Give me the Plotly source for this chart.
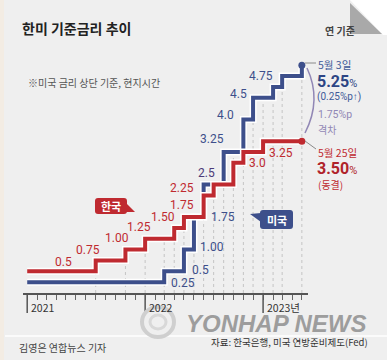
import plotly.graph_objects as go
import pandas as pd

# ---------------- data ----------------
kr_dates = ["2021-01-01", "2021-08-01", "2021-11-01", "2022-01-01", "2022-04-01", "2022-05-01",
            "2022-07-01", "2022-08-01", "2022-10-01", "2022-11-01", "2023-01-01", "2023-05-01"]
kr_rates = [0.5, 0.75, 1.0, 1.25, 1.5, 1.75, 2.25, 2.5, 3.0, 3.25, 3.5, 3.5]
kr_labels = ["0.5", "0.75", "1.00", "1.25", "1.50", "1.75", "2.25", "", "3.0", "3.25", "", ""]

us_dates = ["2021-01-01", "2022-03-01", "2022-05-01", "2022-06-01", "2022-07-01", "2022-09-01",
            "2022-11-01", "2022-12-01", "2023-02-01", "2023-03-01", "2023-05-01"]
us_rates = [0.25, 0.5, 1.0, 1.75, 2.5, 3.25, 4.0, 4.5, 4.75, 5.0, 5.25]
us_labels = ["0.25", "0.5", "1.00", "1.75", "2.5", "3.25", "4.0", "4.5", "4.75", "", ""]

year_ticks = ["2021-01-01", "2022-01-01", "2023-01-01"]
year_labels = ["2021", "2022", "2023년"]

# ---------------- styles / positions ----------------
kr_dx = [36, -8, -8, -6, -11, -2, -22, 0, 24, 38, 0, 0]
kr_dy = [9, 10, 12, 12, 11, 12, 7, 0, 0, -1, 0, 0]
us_dx = [156, 36, 28, 29, 3, -12, -18, -15, -12, 0, 0]
us_dy = [-1, 1, 3, 0, 12, 13, 4, 4, 11, 0, 0]

RED = "#bf2a30"
BLUE = "#3d4f8b"
PURPLE = "#4b3a78"
LAV = "#9187b5"
BG = "#efefef"

W_FIG, H_FIG = 387, 360
L, T, W, H = 23, 11, 285, 282


def PX(x):
    return (x - L) / W


def PY(y):
    return 1 - (y - T) / H


def path(points, close=True):
    s = "M " + " L ".join(f"{PX(x):.5f},{PY(y):.5f}" for x, y in points)
    return s + (" Z" if close else "")


def rrect(x0, y0, x1, y1, r):
    p = lambda x, y: f"{PX(x):.5f},{PY(y):.5f}"
    return (f"M {p(x0 + r, y0)} L {p(x1 - r, y0)} Q {p(x1, y0)} {p(x1, y0 + r)} "
            f"L {p(x1, y1 - r)} Q {p(x1, y1)} {p(x1 - r, y1)} L {p(x0 + r, y1)} "
            f"Q {p(x0, y1)} {p(x0, y1 - r)} L {p(x0, y0 + r)} Q {p(x0, y0)} {p(x0 + r, y0)} Z")


fig = go.Figure()

# white halos + lines
for dates, rates, col in [(us_dates, us_rates, BLUE), (kr_dates, kr_rates, RED)]:
    fig.add_trace(go.Scatter(x=dates, y=rates, mode="lines", line=dict(shape="hv", color="white", width=7),
                             hoverinfo="skip", showlegend=False))
    fig.add_trace(go.Scatter(x=dates, y=rates, mode="lines", line=dict(shape="hv", color=col, width=4),
                             showlegend=False))
    fig.add_trace(go.Scatter(x=[dates[-1]], y=[rates[-1]], mode="markers",
                             marker=dict(color=col, size=7), showlegend=False, cliponaxis=False))

shapes = []


def step_val(dates, rates, d):
    v = rates[0]
    for dd, r in zip(dates, rates):
        if pd.Timestamp(dd) <= pd.Timestamp(d):
            v = r
    return v


# dotted guide lines at rate-change dates
change_dates = sorted(set(kr_dates[1:] + us_dates[1:]))
for d in change_dates:
    top = max(step_val(kr_dates, kr_rates, d), step_val(us_dates, us_rates, d))
    shapes.append(dict(type="line", xref="x", yref="y", x0=d, x1=d, y0=0, y1=top,
                       line=dict(color="#c4c4c4", width=1, dash="dot"), layer="below"))

# major year ticks
for d in year_ticks:
    shapes.append(dict(type="line", xref="x", yref="paper", x0=d, x1=d, y0=0, y1=PY(313),
                       line=dict(color="#555", width=1.5)))

# left beige strip, bottom separator
shapes.append(dict(type="rect", xref="paper", yref="paper", x0=PX(0), x1=PX(4), y0=PY(360), y1=PY(0),
                   fillcolor="#f3ece3", line=dict(width=0), layer="below"))
shapes.append(dict(type="line", xref="paper", yref="paper", x0=PX(5), x1=PX(387), y0=PY(336), y1=PY(336),
                   line=dict(color="white", width=1.5)))

# folded corner
shapes.append(dict(type="path", xref="paper", yref="paper",
                   path=path([(350, 0), (387, 0), (387, 35), (383, 35)]),
                   fillcolor="white", line=dict(width=0)))
shapes.append(dict(type="path", xref="paper", yref="paper",
                   path=path([(350, 3), (350, 34), (382, 34)]),
                   fillcolor="#a9a9a9", line=dict(width=0)))

# callout boxes
shapes.append(dict(type="path", xref="paper", yref="paper", path=rrect(95, 198, 127, 214, 3),
                   fillcolor=RED, line=dict(width=0)))
shapes.append(dict(type="path", xref="paper", yref="paper", path=path([(126, 203), (135, 212), (126, 212)]),
                   fillcolor=RED, line=dict(width=0)))
shapes.append(dict(type="path", xref="paper", yref="paper", path=rrect(260, 210, 293, 229, 3),
                   fillcolor=BLUE, line=dict(width=0)))
shapes.append(dict(type="path", xref="paper", yref="paper", path=path([(261, 213), (250, 214), (261, 222)]),
                   fillcolor=BLUE, line=dict(width=0)))

# end connectors and gap arc
shapes.append(dict(type="line", xref="paper", yref="paper", x0=PX(305), x1=PX(316), y0=PY(63), y1=PY(63),
                   line=dict(color="#8a8a8a", width=1)))
shapes.append(dict(type="line", xref="paper", yref="paper", x0=PX(305), x1=PX(316), y0=PY(141), y1=PY(149),
                   line=dict(color="#8a8a8a", width=1)))
shapes.append(dict(type="path", xref="paper", yref="paper",
                   path=f"M {PX(307):.5f},{PY(68):.5f} Q {PX(322):.5f},{PY(100):.5f} {PX(305):.5f},{PY(133):.5f}",
                   line=dict(color=LAV, width=1.5)))

# watermark logo ring
shapes.append(dict(type="circle", xref="paper", yref="paper", x0=PX(142), x1=PX(174), y0=PY(337), y1=PY(307),
                   line=dict(color="#cfcfcf", width=4)))
shapes.append(dict(type="circle", xref="paper", yref="paper", x0=PX(150), x1=PX(166), y0=PY(329), y1=PY(315),
                   line=dict(color="#d8d8d8", width=3)))

annotations = []
NUMF = "Roboto"
KRF = "Noto Sans CJK KR"

for d, v, t, dx, dy in zip(kr_dates, kr_rates, kr_labels, kr_dx, kr_dy):
    if t:
        annotations.append(dict(x=d, y=v, xref="x", yref="y", text=t, showarrow=False, xshift=dx, yshift=dy,
                                font=dict(family=NUMF, size=12, color=RED)))
for i, (d, v, t, dx, dy) in enumerate(zip(us_dates, us_rates, us_labels, us_dx, us_dy)):
    if t:
        col = PURPLE if t == "2.5" else BLUE
        annotations.append(dict(x=d, y=v, xref="x", yref="y", text=t, showarrow=False, xshift=dx, yshift=dy,
                                font=dict(family=NUMF, size=12, color=col)))

for d, t in zip(year_ticks, year_labels):
    annotations.append(dict(x=d, y=PY(307), xref="x", yref="paper", text=t, showarrow=False,
                            xanchor="left", yanchor="middle", xshift=2,
                            font=dict(family=KRF, size=10.5, color="#333")))


def txt(x, y, t, size, color, anchor="left", family=KRF):
    annotations.append(dict(x=PX(x), y=PY(y), xref="paper", yref="paper", text=t, showarrow=False,
                            xanchor=anchor, yanchor="middle", font=dict(family=family, size=size, color=color)))


txt(20, 28, "<b>한미 기준금리 추이</b>", 14, "#222")
txt(323, 31, "<b>연 기준</b>", 10, "#444")
txt(26, 83, "※미국 금리 상단 기준, 현지시간", 10, "#555")

txt(316, 64, "5월 3일", 10.5, "#3f5a98")
txt(315, 81, "<b>5.25</b><span style='font-size:11px'>%</span>", 16, "#2c4584", family=NUMF)
txt(315, 97, "(0.25%p↑)", 10, "#3f5a98", family=NUMF)
txt(316, 114, "1.75%p", 10.5, LAV, family=NUMF)
txt(316, 129, "격차", 10, LAV)
txt(316, 152, "5월 25일", 10.5, RED)
txt(315, 168, "<b>3.50</b><span style='font-size:11px'>%</span>", 16, "#b0232a", family=NUMF)
txt(316, 184, "(동결)", 10, RED)

txt(111, 206, "<b>한국</b>", 11, "white", anchor="center")
txt(276.5, 219.5, "<b>미국</b>", 11, "white", anchor="center")

txt(184, 323, "<b><i>YONHAP NEWS</i></b>", 24, "#9d9d9d", family="Liberation Sans")
txt(17, 347, "김영은 연합뉴스 기자", 10, "#444")
txt(370, 342, "자료: 한국은행, 미국 연방준비제도(Fed)", 9.5, "#333", anchor="right")

fig.update_layout(
    width=W_FIG, height=H_FIG,
    margin=dict(l=L, r=W_FIG - L - W, t=T, b=H_FIG - T - H, pad=0),
    paper_bgcolor=BG, plot_bgcolor="rgba(0,0,0,0)",
    showlegend=False,
    shapes=shapes, annotations=annotations,
    xaxis=dict(type="date", range=["2020-12-19", "2023-05-20"], showgrid=False, zeroline=False,
               showline=True, linecolor="#555", linewidth=1.5,
               ticks="outside", ticklen=5, tickwidth=1, tickcolor="#666",
               tick0="2021-01-01", dtick="M1", showticklabels=False, fixedrange=True),
    yaxis=dict(range=[0, 6.5], visible=False, fixedrange=True),
)

fig.write_html("out.html", config={"displayModeBar": False},
               post_script="document.body.style.margin='0';document.body.style.background='%s';" % BG)
